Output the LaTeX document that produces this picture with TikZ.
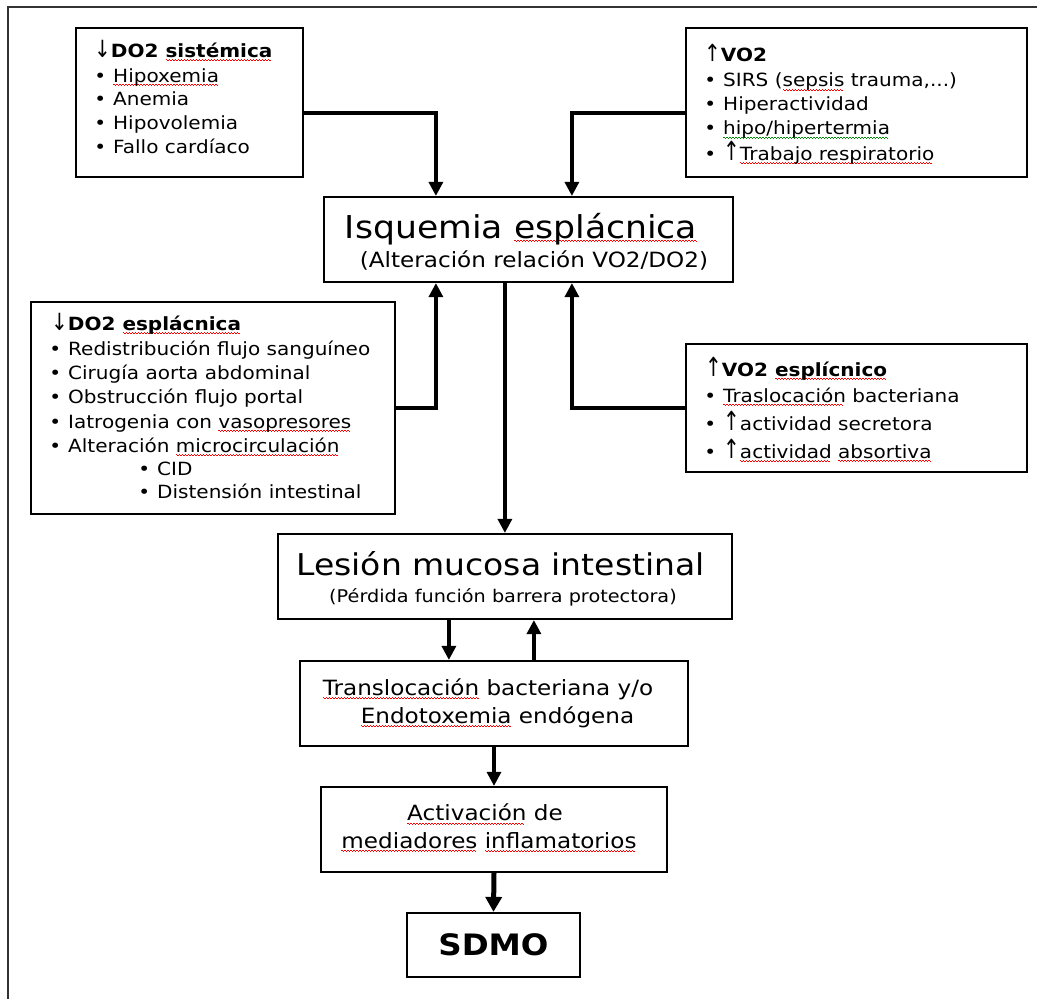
\documentclass[tikz,border=0pt]{standalone}
\usepackage{fontspec}
\setmainfont{DejaVu Sans}[FakeStretch=1.1]
\usepackage{graphicx}
\usetikzlibrary{arrows.meta,calc}

% wavy proofing underlines built from a repeated small step piece
\newcommand\wavepiece[1]{\hbox{\textcolor{#1}{\rule[0.5pt]{1.5pt}{0.9pt}\rule[-0.5pt]{1.5pt}{0.9pt}}}}
\newcommand\wavewith[2]{\setbox0=\hbox{#2}\rlap{\lower3.5pt\hbox to \wd0{\leaders\wavepiece{#1}\hfill}}\box0\relax}
\newcommand\spellred[1]{\wavewith{red}{#1}}
\newcommand\spellgreen[1]{\wavewith{green!55!black}{#1}}

% font sizes
\newcommand\fsItem{\fontsize{18.2pt}{22pt}\selectfont}
\newcommand\fsTitle{\fontsize{31.5pt}{36pt}\selectfont}
\newcommand\fsSub{\fontsize{21pt}{25pt}\selectfont}
\newcommand\fsTitleB{\fontsize{30pt}{35pt}\selectfont}
\newcommand\fsSubB{\fontsize{17.5pt}{21pt}\selectfont}
\newcommand\fsMid{\fontsize{21pt}{25pt}\selectfont}
\newcommand\fsEnd{\fontsize{29.5pt}{34pt}\selectfont}

\newcommand\bul{\llap{•\hspace{7pt}}}
\newcommand\hup{\scalebox{1}[1.3]{↑}}
\newcommand\hdown{\scalebox{1}[1.3]{↓}}
\newcommand\tallup{\scalebox{1}[1.45]{↑}}

\tikzset{
  box/.style={draw=black, line width=2.2pt, inner sep=0pt},
  txt/.style={anchor=base west, inner sep=0pt, font=\fsItem},
  ctr/.style={anchor=base, inner sep=0pt},
  conn/.style={line width=3.2pt, -{Triangle[width=14pt,length=14pt]}},
  bigconn/.style={line width=5pt, -{Triangle[width=16pt,length=15pt]}},
  frame/.style={draw=black!80, line width=2.2pt}
}

\begin{document}
\begin{tikzpicture}[x=1pt,y=-1pt]
\useasboundingbox (0,0) rectangle (1037,999);

% page frame
\draw[frame] (8,999) -- (8,7) -- (1037,7);

% boxes
\node[box, minimum width=227, minimum height=149] (b1) at (189.5,102.5) {};
\node[box, minimum width=341, minimum height=149] (b2) at (856.5,102.5) {};
\node[box, minimum width=409, minimum height=85] (isq) at (528.5,239.5) {};
\node[box, minimum width=364, minimum height=212] (b3) at (213,408) {};
\node[box, minimum width=341, minimum height=128] (b4) at (856.5,408) {};
\node[box, minimum width=454, minimum height=85] (les) at (505,576.5) {};
\node[box, minimum width=388, minimum height=85] (tra) at (494,703.5) {};
\node[box, minimum width=346, minimum height=85] (act) at (494,829.5) {};
\node[box, minimum width=173, minimum height=64] (sdmo) at (493.5,945) {};

% systemic DO2
\node[txt] (b1h) at (94,57) {\hdown\textbf{DO2 \spellred{sistémica}}};
\node[txt] (b1a) at (113,82) {\bul\spellred{Hipoxemia}};
\node[txt] (b1b) at (113,105.5) {\bul Anemia};
\node[txt] (b1c) at (113,129.5) {\bul Hipovolemia};
\node[txt] (b1d) at (113,153) {\bul Fallo cardíaco};

% VO2
\node[txt] (b2h) at (704,61) {\hup\textbf{VO2}};
\node[txt] (b2a) at (723,86.5) {\bul SIRS (\spellred{sepsis} trauma,...)};
\node[txt] (b2b) at (723,110.5) {\bul Hiperactividad};
\node[txt] (b2c) at (723,134.5) {\bul\spellgreen{hipo/hipertermia}};
\node[txt] (b2d) at (723,160) {\bul\tallup\spellred{Trabajo respiratorio}};

% splanchnic ischaemia
\node[ctr, font=\fsTitle] (isqt) at (521,238) {Isquemia \spellred{esplácnica}};
\node[ctr, font=\fsSub] (isqs) at (534,267) {(Alteración relación VO2/DO2)};

% splanchnic DO2
\node[txt] (b3h) at (51,330) {\hdown\textbf{DO2 \spellred{esplácnica}}};
\node[txt] (b3a) at (68,355) {\bul Redistribución flujo sanguíneo};
\node[txt] (b3b) at (68,379) {\bul Cirugía aorta abdominal};
\node[txt] (b3c) at (68,403) {\bul Obstrucción flujo portal};
\node[txt] (b3d) at (68,428) {\bul Iatrogenia con \spellred{vasopresores}};
\node[txt] (b3e) at (68,452) {\bul Alteración \spellred{microcirculación}};
\node[txt] (b3f) at (157,475) {\bul CID};
\node[txt] (b3g) at (157,498.5) {\bul Distensión intestinal};

% splanchnic VO2
\node[txt] (b4h) at (705,376) {\tallup\textbf{VO2 \spellred{esplícnico}}};
\node[txt] (b4a) at (723,402) {\bul\spellred{Traslocación} bacteriana};
\node[txt] (b4b) at (723,430) {\bul\tallup actividad secretora};
\node[txt] (b4c) at (723,458) {\bul\tallup\spellred{actividad} \spellred{absortiva}};

% lower chain
\node[ctr, font=\fsTitleB] (lest) at (500.5,575) {Lesión mucosa intestinal};
\node[ctr, font=\fsSubB] (less) at (503,602) {(Pérdida función barrera protectora)};
\node[ctr, font=\fsMid] (tra1) at (488,695) {\spellred{Translocación} bacteriana y/o};
\node[ctr, font=\fsMid] (tra2) at (497.5,723) {\spellred{Endotoxemia} endógena};
\node[ctr, font=\fsMid] (act1) at (485,820.5) {\spellred{Activación} de};
\node[ctr, font=\fsMid] (act2) at (489,848) {\spellred{mediadores} \spellred{inflamatorios}};
\node[ctr, font=\fsEnd] (sdmot) at (493.5,955) {\textbf{SDMO}};

% connectors
\draw[conn] ($(b1.east)+(0,10.5)$) -| ($(isq.north west)+(113,0)$);
\draw[conn] ($(b2.west)+(0,10.5)$) -| ($(isq.north west)+(249,0)$);
\draw[conn] (b3.east) -| ($(isq.south west)+(113,0)$);
\draw[conn] (b4.west) -| ($(isq.south west)+(249,0)$);
\draw[conn] ($(isq.south west)+(182,0)$) -- ($(les.north west)+(228,0)$);
\draw[conn] ($(les.south west)+(172,0)$) -- ($(tra.north west)+(150,0)$);
\draw[conn] ($(tra.north west)+(235,0)$) -- ($(les.south west)+(257,0)$);
\draw[conn] (tra.south) -- (act.north);
\draw[bigconn] (act.south) -- (sdmo.north);
\end{tikzpicture}
\end{document}
